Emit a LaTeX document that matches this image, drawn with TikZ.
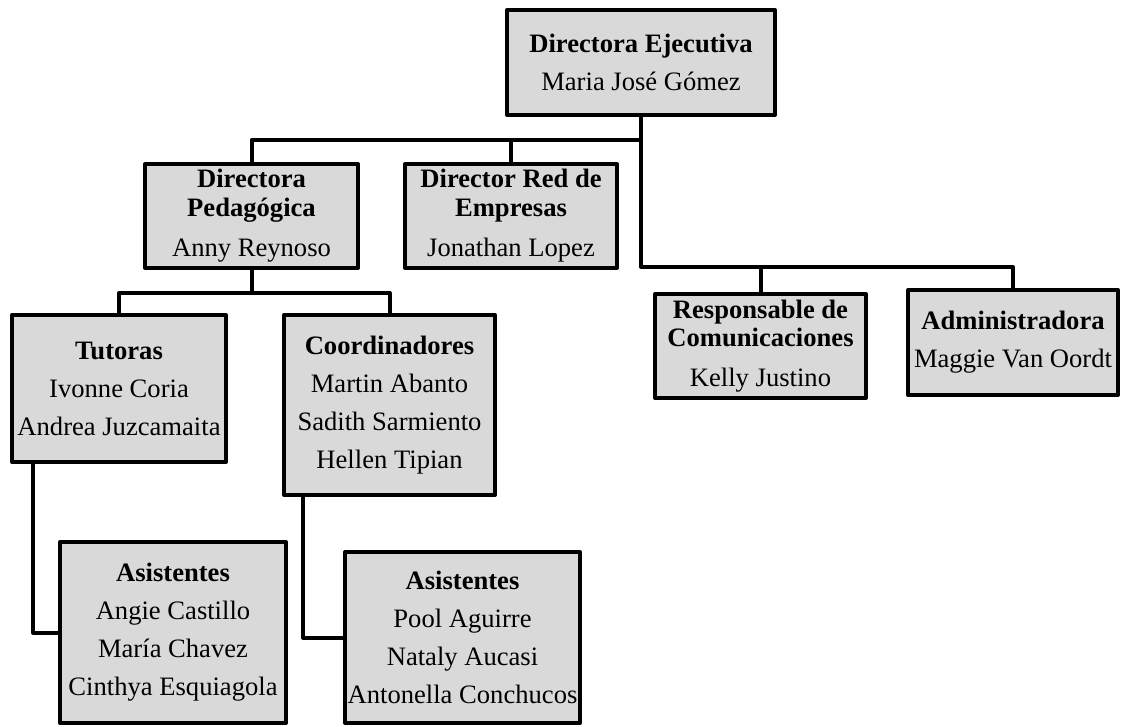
\documentclass[tikz,border=0pt]{standalone}
\usepackage{fontspec}
\setmainfont{Liberation Serif}
\definecolor{boxgray}{RGB}{217,217,217}
\begin{document}
\begin{tikzpicture}[x=1pt,y=-1pt,
  box/.style={draw=black, line width=4pt, line join=round, fill=boxgray, inner sep=0pt, align=center,
    font=\fontsize{26.6}{38}\selectfont},
  link/.style={draw=black, line width=4pt, line join=round}]
\useasboundingbox (0,0) rectangle (1126,727);
% boxes
\node[box, minimum width=268pt, minimum height=105pt] (ejec) at (641,62.5)
  {\textbf{Directora Ejecutiva}\\Maria José Gómez};
\node[box, minimum width=213pt, minimum height=104pt] (ped) at (251.5,216)
  {\textbf{Directora}\\[-9pt]\textbf{Pedagógica}\\[2pt]Anny Reynoso};
\node[box, minimum width=212pt, minimum height=104pt] (red) at (511,216)
  {\textbf{Director Red de}\\[-9pt]\textbf{Empresas}\\[2pt]Jonathan Lopez};
\node[box, minimum width=211pt, minimum height=104pt] (resp) at (760.5,346)
  {\textbf{Responsable de}\\[-10pt]\textbf{Comunicaciones}\\[2pt]Kelly Justino};
\node[box, minimum width=210pt, minimum height=105pt] (adm) at (1013,342.5)
  {\textbf{Administradora}\\Maggie Van Oordt};
\node[box, minimum width=214pt, minimum height=147pt] (tut) at (119,388.5)
  {\textbf{Tutoras}\\Ivonne Coria\\Andrea Juzcamaita};
\node[box, minimum width=211pt, minimum height=180pt] (coord) at (389.5,405)
  {\textbf{Coordinadores}\\Martin Abanto\\Sadith Sarmiento\\Hellen Tipian};
\node[box, minimum width=226pt, minimum height=181pt] (asl) at (173,632.5)
  {\textbf{Asistentes}\\Angie Castillo\\María Chavez\\Cinthya Esquiagola};
\node[box, minimum width=235pt, minimum height=171pt] (asr) at (462.5,637.5)
  {\textbf{Asistentes}\\Pool Aguirre\\Nataly Aucasi\\Antonella Conchucos};
% junction coordinates
\coordinate (bus1) at (641,140);
\coordinate (bus2) at (641,267);
\coordinate (bus3) at (251.5,293);
\coordinate (tutout) at (33,464);
\coordinate (coordout) at (303,497);
% connectors
\draw[link] (ejec.south) -- (bus1) -| (ped.north);
\draw[link] (red.north |- bus1) -- (red.north);
\draw[link] (bus1) -- (bus2) -| (adm.north);
\draw[link] (resp.north |- bus2) -- (resp.north);
\draw[link] (ped.south) -- (bus3);
\draw[link] (tut.north) |- (bus3) -| (coord.north);
\draw[link] (tutout) |- (asl.west);
\draw[link] (coordout) |- (asr.west);
\end{tikzpicture}
\end{document}
